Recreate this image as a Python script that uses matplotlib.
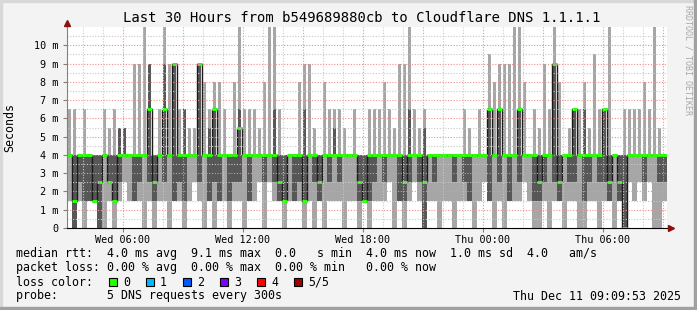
import matplotlib
matplotlib.use("Agg")
import matplotlib.pyplot as plt
from matplotlib.patches import Rectangle
import numpy as np

# 120 slots of 15 minutes, starting Wed 03:12 (hours since Wed 00:00)
start_h = 3.2
slot_h = 0.25

# smoke: outer band (min..max ping), inner band (2nd..4th ping), median; values in ms
hi = [6.5, 6.5, 4, 6.5, 4, 4, 4, 6.5, 5.5, 6.5, 5.5, 4, 4, 9, 9, 11, 9, 4, 6.5, 11,
      9, 9, 6.5, 6.5, 5.5, 5.5, 9, 8, 6.5, 8, 8, 6.5, 4, 8, 11, 6.5, 6.5, 6.5, 5.5, 8,
      11, 11, 6.5, 4, 4, 4, 8, 9, 9, 5.5, 4, 8, 6.5, 6.5, 6.5, 5.5, 4, 6.5, 4, 4,
      6.5, 6.5, 6.5, 8, 6.5, 5.5, 9, 9, 11, 6.5, 5.5, 6.5, 4, 4, 4, 4, 4, 4, 4, 6.5,
      5.5, 4, 6.5, 4, 9.5, 8, 9, 9, 9, 11, 11, 8, 4, 6.5, 5.5, 9, 6.5, 11, 8, 4,
      5.5, 6.5, 6.5, 8, 5.5, 9.5, 6.5, 6.5, 11, 4, 4, 6.5, 6.5, 6.5, 6.5, 8, 6.5, 11, 5.5, 4]
lo = [1.5, 0, 1.5, 0, 1.5, 1.5, 0, 0, 1.5, 0, 1.5, 2.5, 1.5, 1.5, 1.5, 0, 1.5, 0, 1.5, 1.5,
      0, 1.5, 1.5, 0, 1.5, 2.5, 1.5, 0, 1.5, 0, 1.5, 1.5, 0, 1.5, 1.5, 0, 1.5, 1.5, 2.5, 0,
      2.5, 1.5, 1.5, 0, 1.5, 1.5, 1.5, 0, 1.5, 0, 1.5, 0, 1.5, 1.5, 1.5, 0, 1.5, 1.5, 0, 1.5,
      0, 1.5, 1.5, 1.5, 2.5, 0, 1.5, 0, 1.5, 2.5, 1.5, 0, 1.5, 1.5, 0, 1.5, 1.5, 0, 1.5, 1.5,
      1.5, 0, 1.5, 2.5, 1.5, 0, 1.5, 0, 1.5, 1.5, 1.5, 2.5, 1.5, 0, 0, 1.5, 0, 1.5, 1.5, 0,
      1.5, 1.5, 0, 0, 1.5, 1.5, 0, 1.5, 1.5, 0, 1.5, 0, 2.5, 1.5, 2.5, 1.5, 2.5, 0, 0, 1.5]
dlo = [4, 0, 2.5, 1.5, 1.5, 1.5, 0, 4, 2.5, 1.5, 2.5, 4, 4, 1.5, 2.5, 4, 2.5, 1.5, 4, 2.5,
       4, 1.5, 2.5, 1.5, 4, 4, 2.5, 4, 1.5, 2.5, 1.5, 4, 1.5, 2.5, 2.5, 4, 1.5, 4, 4, 2.5,
       4, 2.5, 1.5, 1.5, 4, 1.5, 2.5, 1.5, 4, 2.5, 1.5, 4, 2.5, 4, 2.5, 4, 4, 4, 1.5, 1.5,
       1.5, 2.5, 4, 2.5, 4, 4, 1.5, 1.5, 2.5, 4, 2.5, 0, 4, 2.5, 4, 4, 4, 2.5, 4, 2.5,
       1.5, 4, 4, 4, 1.5, 4, 2.5, 4, 1.5, 4, 2.5, 4, 4, 1.5, 1.5, 2.5, 4, 2.5, 1.5, 4,
       2.5, 2.5, 4, 1.5, 2.5, 4, 2.5, 2.5, 1.5, 4, 1.5, 0, 4, 4, 4, 2.5, 4, 4, 2.5, 2.5]
dhi = [4, 4, 4, 4, 4, 4, 4, 4, 4, 4, 5.5, 5.5, 4, 4, 4, 4, 9, 4, 4, 9,
       4, 9, 4, 6.5, 4, 4, 9, 4, 5.5, 6.5, 4, 4, 4, 4, 6.5, 4, 4, 4, 4, 4,
       4, 6.5, 4, 4, 4, 4, 4, 6.5, 4, 4, 4, 4, 4, 5.5, 4, 4, 4, 4, 4, 4,
       4, 4, 4, 4, 4, 4, 4, 4, 6.5, 4, 4, 5.5, 4, 4, 4, 4, 4, 4, 4, 4,
       4, 4, 4, 4, 6.5, 4, 6.5, 4, 4, 4, 6.5, 4, 4, 4, 4, 4, 4, 9, 4, 4,
       4, 6.5, 4, 6.5, 4, 4, 4, 6.5, 4, 4, 4, 4, 4, 4, 4, 4, 4, 4, 4, 4]
med = [4, 1.5, 4, 4, 4, 1.5, 2.5, 4, 2.5, 1.5, 4, 4, 4, 4, 4, 4, 6.5, 2.5, 4, 6.5,
       4, 9, 4, 4, 4, 4, 9, 4, 4, 6.5, 4, 4, 4, 4, 5.5, 4, 4, 4, 4, 4,
       4, 4, 2.5, 1.5, 4, 4, 4, 1.5, 4, 4, 2.5, 4, 4, 4, 4, 4, 4, 4, 2.5, 1.5,
       4, 4, 4, 4, 4, 4, 4, 2.5, 4, 4, 4, 2.5, 4, 4, 4, 4, 4, 4, 4, 4,
       4, 4, 4, 4, 6.5, 4, 6.5, 4, 4, 4, 6.5, 4, 4, 4, 2.5, 4, 4, 9, 2.5, 4,
       4, 6.5, 4, 4, 4, 4, 4, 6.5, 2.5, 4, 2.5, 0, 4, 4, 4, 4, 4, 4, 4, 4]

tick_hours = [6, 12, 18, 24, 30]
tick_labels = ["Wed 06:00", "Wed 12:00", "Wed 18:00", "Thu 00:00", "Thu 06:00"]
y_ticks = [0, 1, 2, 3, 4, 5, 6, 7, 8, 9, 10]
y_labels = ["0"] + ["%d m" % v for v in y_ticks[1:]]

loss_labels = ["0", "1", "2", "3", "4", "5/5"]
loss_colors = ["#26ff00", "#00b8ff", "#0059ff", "#7e00ff", "#ff0000", "#a10000"]

legend_lines = [
    "median rtt:  4.0 ms avg  9.1 ms max  0.0   s min  4.0 ms now  1.0 ms sd  4.0   am/s",
    "packet loss: 0.00 % avg  0.00 % max  0.00 % min   0.00 % now",
    "loss color:",
    "probe:       5 DNS requests every 300s",
]

W, H = 697, 310
mono = "DejaVu Sans Mono"
fig = plt.figure(figsize=(W / 100, H / 100), dpi=100, facecolor="#f3f3f3")

# 3d frame like rrdtool
fig.patches.append(Rectangle((0, 1 - 2 / H), 1, 2 / H, transform=fig.transFigure, color="#d8d8d8", zorder=0))
fig.patches.append(Rectangle((0, 0), 2 / W, 1, transform=fig.transFigure, color="#d8d8d8", zorder=0))
fig.patches.append(Rectangle((1 - 3 / W, 0), 3 / W, 1, transform=fig.transFigure, color="#a0a0a0", zorder=0))
fig.patches.append(Rectangle((0, 0), 1, 3 / H, transform=fig.transFigure, color="#a0a0a0", zorder=0))

x0, x1, yb, yt = 67, 667, 228, 27
ax = fig.add_axes([x0 / W, 1 - yb / H, (x1 - x0) / W, (yb - yt) / H])
ax.set_facecolor("white")

n = len(med)
centers = start_h + slot_h * (np.arange(n) + 0.5)
edges = start_h + slot_h * np.arange(n + 1)
hi_a, lo_a, dhi_a, dlo_a = map(np.array, (hi, lo, dhi, dlo))

light, dark = "#a6a6a6", "#575757"
# smoke below 4 ms is dense, spikes above 4 ms are narrow
ax.bar(centers, np.minimum(hi_a, 4) - lo_a, bottom=lo_a, width=slot_h * 0.85, color=light, lw=0, zorder=1)
ax.bar(centers, np.maximum(hi_a - 4, 0), bottom=4, width=slot_h * 0.5, color=light, lw=0, zorder=1)
ax.bar(centers, np.minimum(dhi_a, 4) - dlo_a, bottom=dlo_a, width=slot_h * 0.85, color=dark, lw=0, zorder=2)
ax.bar(centers, np.maximum(dhi_a - 4, 0), bottom=4, width=slot_h * 0.5, color=dark, lw=0, zorder=2)

ax.step(edges, list(med) + [med[-1]], where="post", color="#1a1a1a", lw=1.0, zorder=3)
ax.hlines(med, edges[:-1], edges[1:], color=loss_colors[0], lw=2.2, zorder=4)

ax.set_xlim(edges[0], edges[-1])
ax.set_ylim(0, 11)

# grid on top of the data, dotted
for h in np.arange(4, 34):
    major = h % 3 == 0
    ax.axvline(h, color="#f09090" if major else "#c8c8c8", lw=0.8,
               dashes=(1, 1.5), zorder=5)
for v in np.arange(0.5, 11, 0.5):
    major = v == int(v)
    ax.axhline(v, color="#f09090" if major else "#c8c8c8", lw=0.8,
               dashes=(1, 1.5), zorder=5)

for s in ["top", "right"]:
    ax.spines[s].set_visible(False)
ax.spines["left"].set_color("#808080")
ax.spines["bottom"].set_color("#000000")
ax.spines["left"].set_zorder(6)
ax.spines["bottom"].set_zorder(6)

ax.set_yticks(y_ticks)
ax.set_yticklabels(y_labels, fontfamily=mono, fontsize=7.3)
ax.set_xticks(tick_hours)
ax.set_xticklabels(tick_labels, fontfamily=mono, fontsize=7.3)
ax.tick_params(axis="y", length=3, width=0.8, color="#808080", pad=3)
ax.tick_params(axis="x", length=3, width=0.8, color="#808080", pad=2)

# axis arrows
ax.plot([0], [1.02], marker="^", ms=5, color="#8b1010", transform=ax.transAxes, clip_on=False, zorder=7)
ax.plot([1.006], [0], marker=">", ms=5, color="#8b1010", transform=ax.transAxes, clip_on=False, zorder=7)

fig.text(362 / W, 1 - 18 / H, "Last 30 Hours from b549689880cb to Cloudflare DNS 1.1.1.1",
         family=mono, fontsize=10, ha="center", va="center")
fig.text(10 / W, 1 - 128 / H, "Seconds", family=mono, fontsize=8.4, rotation=90,
         ha="center", va="center")
fig.text(688 / W, 1 - 60 / H, "RRDTOOL / TOBI OETIKER", family=mono, fontsize=6,
         rotation=270, ha="center", va="center", color="#a8a8a8")

line_y = [254, 268, 282, 296]
for txt, yy in zip(legend_lines, line_y):
    fig.text(16 / W, 1 - yy / H, txt, family=mono, fontsize=8.4, ha="left", va="center")

for i, (lab, col) in enumerate(zip(loss_labels, loss_colors)):
    bx = 109 + 37 * i
    fig.patches.append(Rectangle((bx / W, 1 - 286 / H), 8 / W, 8 / H, transform=fig.transFigure,
                                 facecolor=col, edgecolor="black", lw=0.8, zorder=3))
    fig.text((bx + 14) / W, 1 - 282 / H, lab, family=mono, fontsize=8.4, ha="left", va="center")

fig.text(681 / W, 1 - 296 / H, "Thu Dec 11 09:09:53 2025", family=mono, fontsize=8.4,
         ha="right", va="center")

fig.savefig("out.png", dpi=100, facecolor=fig.get_facecolor())
